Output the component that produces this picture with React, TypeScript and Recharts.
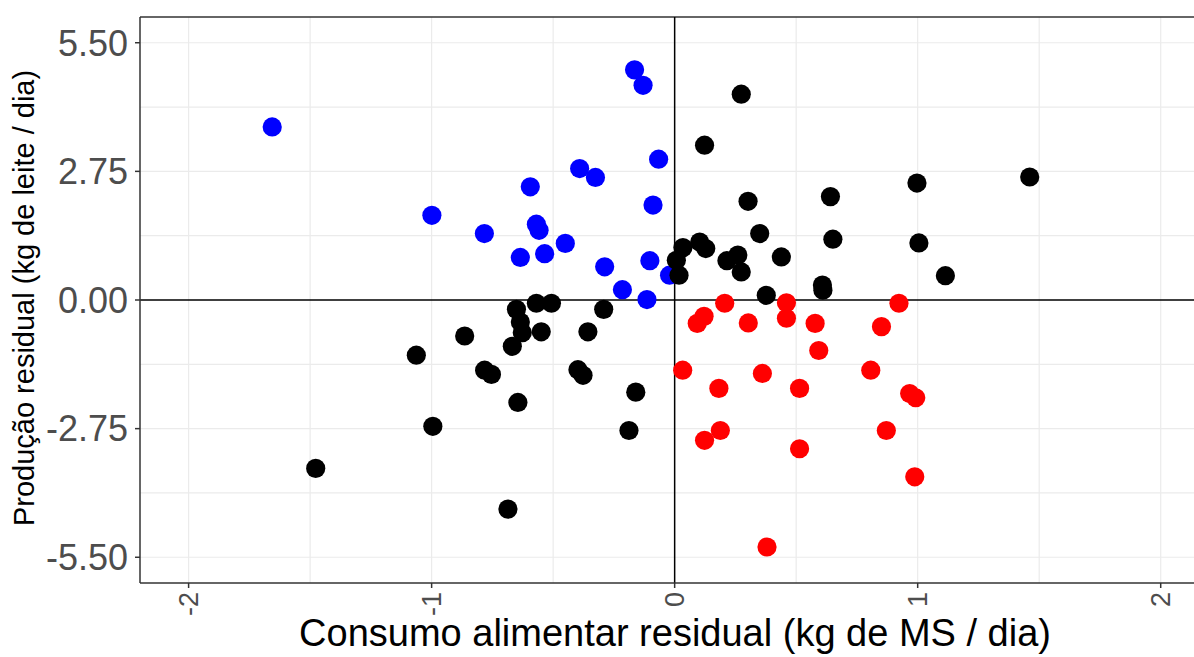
import { ScatterChart, Scatter, XAxis, YAxis, ReferenceLine } from "recharts";

// eficientes (CAR < 0, produção > 0)
const blue: [number, number][] = [
  [-1.656, 3.7], [-0.165, 4.92], [-0.13, 4.59], [-0.066, 3.01], [-0.391, 2.81],
  [-0.326, 2.62], [-0.594, 2.42], [-0.089, 2.03], [-0.999, 1.81], [-0.783, 1.42],
  [-0.569, 1.62], [-0.558, 1.49], [-0.45, 1.21], [-0.535, 0.99], [-0.635, 0.91],
  [-0.102, 0.84], [-0.288, 0.71], [-0.021, 0.53], [-0.215, 0.22], [-0.114, 0.01],
];

const black: [number, number][] = [
  [-1.477, -3.6], [0.274, 4.4], [0.123, 3.31], [0.302, 2.11], [0.35, 1.42],
  [0.103, 1.24], [0.128, 1.1], [0.034, 1.12], [0.007, 0.85], [0.018, 0.53],
  [0.215, 0.84], [0.26, 0.96], [0.274, 0.6], [0.439, 0.92], [0.377, 0.1],
  [1.461, 2.63], [0.997, 2.5], [0.641, 2.21], [0.651, 1.3], [1.005, 1.22],
  [1.114, 0.52], [0.608, 0.32], [0.61, 0.21], [-0.651, -0.2], [-0.569, -0.07],
  [-0.507, -0.07], [-0.292, -0.2], [-0.635, -0.47], [-0.627, -0.7], [-0.549, -0.68],
  [-0.357, -0.68], [-0.864, -0.77], [-0.668, -0.99], [-1.063, -1.18], [-0.782, -1.5],
  [-0.754, -1.59], [-0.398, -1.49], [-0.377, -1.61], [-0.16, -1.97], [-0.645, -2.19],
  [-0.995, -2.7], [-0.188, -2.79], [-0.686, -4.47],
];

// ineficientes (CAR > 0, produção < 0)
const red: [number, number][] = [
  [0.206, -0.07], [0.46, -0.06], [0.46, -0.39], [0.121, -0.35], [0.093, -0.5],
  [0.303, -0.49], [0.923, -0.07], [0.578, -0.5], [0.851, -0.57], [0.593, -1.08],
  [0.807, -1.5], [0.033, -1.5], [0.361, -1.57], [0.182, -1.89], [0.514, -1.89],
  [0.967, -2.0], [0.992, -2.09], [0.871, -2.79], [0.188, -2.79], [0.123, -3.0],
  [0.514, -3.18], [0.988, -3.78], [0.38, -5.28],
];

const xTicks = [-2, -1, 0, 1, 2];
const yTicks = [-5.5, -2.75, 0, 2.75, 5.5];
const xGrid = [-2, -1.5, -1, -0.5, 0.5, 1, 1.5, 2];
const yGrid = [-5.5, -4.125, -2.75, -1.375, 1.375, 2.75, 4.125, 5.5];

const toPts = (arr: [number, number][]) => arr.map(([x, y]) => ({ x, y }));

const FONT = "'Liberation Sans', Arial, sans-serif";

const dot = (fill: string) => (p: any) => <circle cx={p.cx} cy={p.cy} r={9.6} fill={fill} />;

function XTick(props: any) {
  const { x, y, payload } = props;
  return (
    <text
      x={x}
      y={y}
      transform={`rotate(-90, ${x}, ${y})`}
      textAnchor="end"
      dy="0.36em"
      fontSize={27}
      fill="#4d4d4d"
      fontFamily={FONT}
    >
      {payload.value}
    </text>
  );
}

function YTitle() {
  return (
    <text
      x={34}
      y={298}
      transform="rotate(-90, 34, 298)"
      textAnchor="middle"
      fontSize={29}
      fill="#000"
      fontFamily={FONT}
    >
      Produção residual (kg de leite / dia)
    </text>
  );
}

function XTitle() {
  return (
    <text x={675} y={646} textAnchor="middle" fontSize={38} fill="#000" fontFamily={FONT}>
      Consumo alimentar residual (kg de MS / dia)
    </text>
  );
}

export default function App() {
  return (
    <div style={{ position: "absolute", left: 0, top: 0, background: "#fff", fontFamily: FONT }}>
      <ScatterChart width={1194} height={657} margin={{ top: 17, right: 0, bottom: 0, left: 0 }}>
        {xGrid.map((v) => (
          <ReferenceLine key={"gx" + v} x={v} stroke="#ebebeb" strokeWidth={1.2} />
        ))}
        {yGrid.map((v) => (
          <ReferenceLine key={"gy" + v} y={v} stroke="#ebebeb" strokeWidth={1.2} />
        ))}
        <ReferenceLine y={6.05} stroke="#333" strokeWidth={1.5} />
        <XAxis
          type="number"
          dataKey="x"
          domain={[-2.2, 2.137]}
          allowDataOverflow
          ticks={xTicks}
          height={74}
          tickSize={5}
          tickMargin={4}
          stroke="#333"
          strokeWidth={1.5}
          tick={<XTick />}
          label={<XTitle />}
        />
        <YAxis
          type="number"
          dataKey="y"
          domain={[-6.05, 6.05]}
          allowDataOverflow
          ticks={yTicks}
          width={140}
          tickSize={5}
          tickMargin={7}
          stroke="#333"
          strokeWidth={1.5}
          tickFormatter={(v: number) => v.toFixed(2)}
          tick={{ fill: "#4d4d4d", fontSize: 36, fontFamily: FONT }}
          label={<YTitle />}
        />
        <ReferenceLine x={0} stroke="#000" strokeWidth={1.5} />
        <ReferenceLine y={0} stroke="#000" strokeWidth={1.5} />
        <Scatter data={toPts(blue)} shape={dot("#0000ff")} isAnimationActive={false} />
        <Scatter data={toPts(black)} shape={dot("#000000")} isAnimationActive={false} />
        <Scatter data={toPts(red)} shape={dot("#ff0000")} isAnimationActive={false} />
      </ScatterChart>
    </div>
  );
}
